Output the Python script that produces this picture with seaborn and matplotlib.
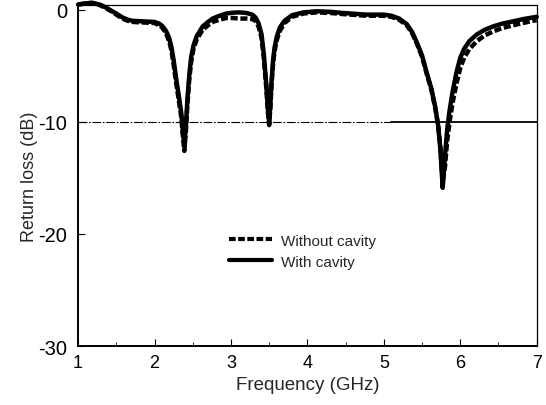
import seaborn as sns
import pandas as pd
import matplotlib.pyplot as plt

freq = [1.0, 1.1, 1.18, 1.25, 1.3, 1.36, 1.41, 1.46, 1.5, 1.58, 1.65, 1.71, 1.85, 2.0, 2.06, 2.1,
        2.15, 2.19, 2.22, 2.25, 2.28, 2.32, 2.35, 2.37, 2.39, 2.41, 2.43, 2.455, 2.48, 2.51, 2.55,
        2.63, 2.7, 2.76, 2.85, 2.94, 3.02, 3.11, 3.2, 3.28, 3.32, 3.36, 3.40, 3.43, 3.46, 3.485,
        3.50, 3.515, 3.53, 3.55, 3.57, 3.6, 3.64, 3.7, 3.8, 3.95, 4.12, 4.3, 4.46, 4.77, 5.0, 5.1,
        5.2, 5.3, 5.37, 5.43, 5.5, 5.56, 5.62, 5.67, 5.71, 5.74, 5.77, 5.8, 5.83, 5.86, 5.9, 5.95,
        6.0, 6.05, 6.12, 6.22, 6.32, 6.43, 6.55, 6.69, 6.82, 6.95, 7.0]
rl_with = [0.45, 0.55, 0.6, 0.5, 0.4, 0.2, 0.0, -0.2, -0.35, -0.7, -0.9, -1.0, -1.05, -1.1, -1.25, -1.45,
           -1.9, -2.5, -3.3, -4.5, -6.0, -7.8, -9.2, -10.8, -12.1, -10.4, -8.0, -5.8, -4.2, -3.2, -2.4,
           -1.5, -1.1, -0.8, -0.55, -0.35, -0.28, -0.25, -0.3, -0.45, -0.7, -1.2, -2.2, -4.0, -6.5, -9.0,
           -10.1, -8.5, -6.5, -4.6, -3.4, -2.4, -1.6, -1.0, -0.5, -0.25, -0.15, -0.2, -0.3, -0.45, -0.45, -0.55,
           -0.8, -1.3, -2.0, -2.9, -4.1, -5.6, -7.0, -8.6, -10.3, -12.5, -15.9, -13.0, -10.6, -9.0, -7.3, -5.6,
           -4.3, -3.5, -2.8, -2.2, -1.8, -1.5, -1.25, -1.05, -0.85, -0.7, -0.65]
rl_without = [0.45, 0.55, 0.6, 0.5, 0.35, 0.15, -0.05, -0.25, -0.45, -0.8, -1.0, -1.1, -1.15, -1.2, -1.4, -1.6,
              -2.1, -2.8, -3.6, -4.9, -6.4, -8.2, -9.6, -11.2, -12.6, -10.9, -8.5, -6.2, -4.6, -3.5, -2.7,
              -1.8, -1.4, -1.1, -0.9, -0.75, -0.75, -0.8, -0.8, -0.85, -1.0, -1.5, -2.5, -4.3, -6.8, -9.3,
              -10.3, -8.8, -6.8, -4.9, -3.7, -2.7, -1.9, -1.2, -0.65, -0.35, -0.25, -0.3, -0.4, -0.55, -0.55, -0.65,
              -0.9, -1.4, -2.1, -3.0, -4.2, -5.7, -7.1, -8.7, -10.3, -12.3, -15.4, -14.0, -11.6, -10.0, -8.3, -6.6,
              -5.2, -4.3, -3.5, -2.8, -2.3, -1.95, -1.65, -1.4, -1.2, -1.0, -0.95]

ref_level = [-10, -10]
ref_dashdot = [1.0, 5.1]
ref_solid = [5.1, 7.0]

x_ticks = [1, 2, 3, 4, 5, 6, 7]
x_minor = [1.5, 2.5, 3.5, 4.5, 5.5, 6.5]
y_ticks = [0, -10, -20, -30]

df = pd.concat([
    pd.DataFrame({'Frequency': freq, 'RL': rl_without, 'Case': 'Without cavity'}),
    pd.DataFrame({'Frequency': freq, 'RL': rl_with, 'Case': 'With cavity'}),
])

sns.set_style('ticks')
plt.rcParams['font.family'] = ['Liberation Sans', 'DejaVu Sans']
plt.rcParams['axes.unicode_minus'] = False

fig = plt.figure(figsize=(5.46, 4.06), dpi=100)
ax = fig.add_axes([0.143, 0.145, 0.84, 0.84])

# -10 dB reference line
ax.plot(ref_dashdot, ref_level, color='black', linewidth=0.8, linestyle=(0, (8, 1.5, 1.5, 1.5)))
ax.plot(ref_solid, ref_level, color='black', linewidth=1.3)

sns.lineplot(data=df, x='Frequency', y='RL', style='Case', sort=False, estimator=None,
             color='black', linewidth=3.2, ax=ax, clip_on=False,
             dashes={'Without cavity': (1.6, 0.6), 'With cavity': ''})

ax.set_xlim(1, 7)
ax.set_ylim(-30, 0.4)
ax.set_xticks(x_ticks)
ax.set_xticks(x_minor, minor=True)
ax.set_yticks(y_ticks)
ax.tick_params(axis='both', which='both', direction='in', top=False, right=False, colors='black')
ax.tick_params(axis='x', which='major', labelsize=13, length=5, pad=6)
ax.tick_params(axis='x', which='minor', length=3)
ax.tick_params(axis='y', which='major', labelsize=14.5, length=5, pad=8)

for s in ['left', 'bottom', 'top', 'right']:
    ax.spines[s].set_color('black')
    ax.spines[s].set_visible(True)
ax.spines['left'].set_linewidth(1.4)
ax.spines['bottom'].set_linewidth(1.4)
ax.spines['top'].set_linewidth(0.9)
ax.spines['right'].set_linewidth(0.9)

ax.set_xlabel('Frequency (GHz)', fontsize=13.5, labelpad=3)
ax.set_ylabel('Return loss (dB)', fontsize=13, labelpad=0)

leg = ax.legend(loc='upper left', bbox_to_anchor=(0.3, 0.37), frameon=False, fontsize=11,
                handlelength=2.8, handletextpad=0.6, labelspacing=0.45)
for line in leg.get_lines():
    line.set_linewidth(3.0)

fig.savefig('out.png', dpi=100)
